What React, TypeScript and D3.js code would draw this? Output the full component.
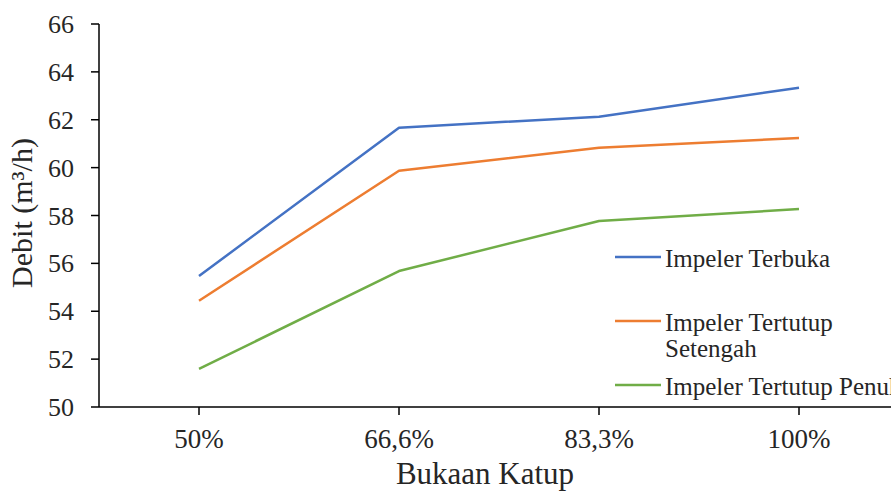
import React from "react";
import * as d3 from "d3";

const categories = ["50%", "66,6%", "83,3%", "100%"];
const seriesNames = ["Impeler Terbuka", "Impeler Tertutup Setengah", "Impeler Tertutup Penuh"];
const terbuka = [55.47, 61.67, 62.13, 63.34];
const setengah = [54.44, 59.87, 60.83, 61.24];
const penuh = [51.59, 55.68, 57.77, 58.27];
const yTicks = [50, 52, 54, 56, 58, 60, 62, 64, 66];
const colors = ["#4472C4", "#ED7D31", "#70AD47"];

const W = 891;
const H = 492;
const left = 99;
const right = 899;
const top = 24;
const bottom = 407;
const font = "'Liberation Serif', 'Times New Roman', serif";
const textColor = "#262626";

export default function App() {
  const x = d3.scaleBand<string>().domain(categories).range([left, right]);
  const y = d3.scaleLinear().domain([50, 66]).range([bottom, top]);
  const line = d3
    .line<number>()
    .x((_, i) => (x(categories[i]) as number) + x.bandwidth() / 2)
    .y((d) => y(d));
  const allSeries = [terbuka, setengah, penuh];

  const legendItems = [
    { y: 257, lines: ["Impeler Terbuka"] },
    { y: 321, lines: ["Impeler Tertutup", "Setengah"] },
    { y: 385, lines: ["Impeler Tertutup Penuh"] },
  ];

  return (
    <svg
      width={W}
      height={H}
      style={{ position: "absolute", left: 0, top: 0, background: "#fff" }}
      fontFamily={font}
    >
      <rect x={0} y={0} width={W} height={H} fill="#fff" />
      {/* y axis */}
      <line x1={left} x2={left} y1={top} y2={bottom} stroke="#000" strokeWidth={1.5} />
      {yTicks.map((t) => (
        <g key={t}>
          <line x1={left - 8} x2={left} y1={y(t)} y2={y(t)} stroke="#000" strokeWidth={1.5} />
          <text x={74} y={y(t) + 9} textAnchor="end" fontSize={26} fill={textColor}>
            {t}
          </text>
        </g>
      ))}
      {/* x axis */}
      <line x1={left} x2={right} y1={bottom} y2={bottom} stroke="#000" strokeWidth={1.5} />
      {categories.map((c) => {
        const cx = (x(c) as number) + x.bandwidth() / 2;
        return (
          <g key={c}>
            <line x1={cx} x2={cx} y1={bottom} y2={bottom + 8} stroke="#000" strokeWidth={1.5} />
            <text x={cx} y={448} textAnchor="middle" fontSize={27} fill={textColor}>
              {c}
            </text>
          </g>
        );
      })}
      <text x={485} y={484} textAnchor="middle" fontSize={31} fill={textColor}>
        Bukaan Katup
      </text>
      <text
        transform={`translate(32, 213) rotate(-90)`}
        textAnchor="middle"
        fontSize={30}
        fill={textColor}
      >
        Debit (m³/h)
      </text>
      {/* series */}
      {allSeries.map((s, i) => (
        <path
          key={seriesNames[i]}
          d={line(s) as string}
          fill="none"
          stroke={colors[i]}
          strokeWidth={2.5}
          strokeLinejoin="round"
        />
      ))}
      {/* legend */}
      {legendItems.map((it, i) => (
        <g key={i}>
          <line x1={615} x2={661} y1={it.y} y2={it.y} stroke={colors[i]} strokeWidth={2.5} />
          {it.lines.map((l, j) => (
            <text key={j} x={665} y={it.y + 10 + j * 26} fontSize={25} fill={textColor}>
              {l}
            </text>
          ))}
        </g>
      ))}
    </svg>
  );
}
